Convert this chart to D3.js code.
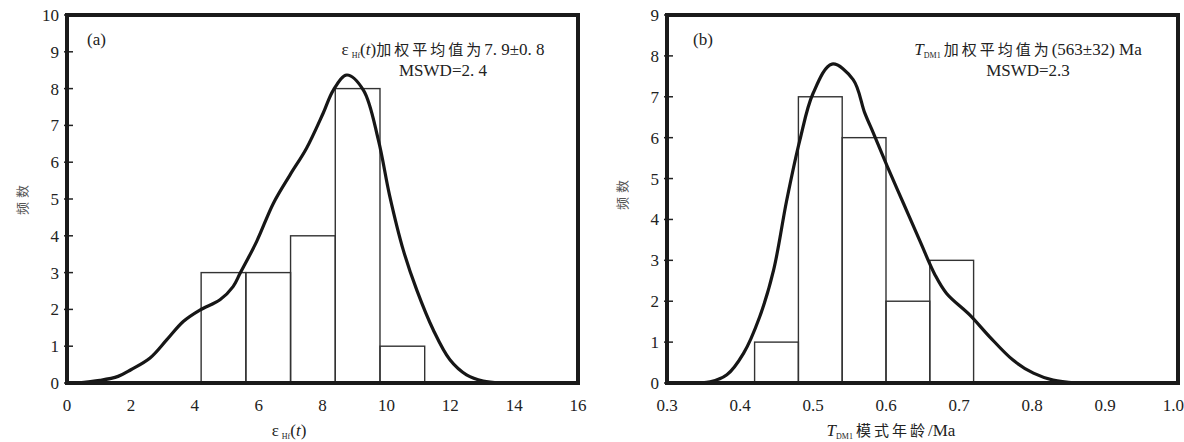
<!DOCTYPE html>
<html>
<head>
<meta charset="utf-8">
<script src="https://cdn.jsdelivr.net/npm/d3@7"></script>
<style>
body { margin: 0; background: #fff; }
</style>
</head>
<body>
<svg id="chart" width="1184" height="442"></svg>
<script>
// panel (a): eHf(t)
var hfBinStart = [4.2, 5.6, 7.0, 8.4, 9.8]
var hfCounts = [3, 3, 4, 8, 1]
var hfBinWidth = 1.4
var hfCurveX = [0.3, 1.03, 1.6, 2.0, 2.6, 3.12, 3.64, 4.16, 4.79, 5.2, 5.42, 5.94, 6.46, 6.98, 7.5, 8.02, 8.34, 8.76, 9.28, 9.75, 10.1, 10.53, 10.95, 11.47, 11.99, 12.51, 13.03, 13.56]
var hfCurveY = [0.0, 0.07, 0.18, 0.36, 0.68, 1.17, 1.67, 1.98, 2.26, 2.62, 2.98, 3.85, 4.88, 5.65, 6.38, 7.33, 7.96, 8.37, 7.96, 6.6, 5.1, 3.61, 2.53, 1.44, 0.63, 0.22, 0.05, 0.0]
var hfXTicks = [0, 2, 4, 6, 8, 10, 12, 14, 16]
var hfYTicks = [0, 1, 2, 3, 4, 5, 6, 7, 8, 9, 10]

// panel (b): TDM1
var tdmBinStart = [0.42, 0.48, 0.54, 0.60, 0.66]
var tdmCounts = [1, 7, 6, 2, 3]
var tdmBinWidth = 0.06
var tdmCurveX = [0.32, 0.359, 0.382, 0.405, 0.427, 0.446, 0.464, 0.482, 0.50, 0.526, 0.555, 0.571, 0.583, 0.601, 0.624, 0.647, 0.667, 0.683, 0.715, 0.742, 0.774, 0.802, 0.829, 0.86]
var tdmCurveY = [0.0, 0.03, 0.2, 0.73, 1.62, 2.76, 4.47, 5.94, 7.08, 7.8, 7.42, 6.6, 6.1, 5.33, 4.39, 3.45, 2.65, 2.19, 1.66, 1.13, 0.56, 0.24, 0.07, 0.0]
var tdmXTicks = [0.3, 0.4, 0.5, 0.6, 0.7, 0.8, 0.9, 1.0]
var tdmYTicks = [0, 1, 2, 3, 4, 5, 6, 7, 8, 9]

var SERIF = "'Liberation Serif', 'Times New Roman', serif"
var CJK = "'Noto Sans CJK SC', sans-serif"

var svg = d3.select('#chart').attr('font-family', SERIF).style('font-family', SERIF)

function drawPanel(opt) {
    var x = d3.scaleLinear().domain(opt.xDomain).range([opt.left, opt.right])
    var y = d3.scaleLinear().domain(opt.yDomain).range([383, 15])
    var g = svg.append('g')

    // bars
    g.selectAll('rect.bar').data(opt.starts).enter().append('rect')
        .attr('class', 'bar')
        .attr('x', function (d) { return x(d) })
        .attr('width', function (d) { return x(d + opt.width) - x(d) })
        .attr('y', function (d, i) { return y(opt.counts[i]) })
        .attr('height', function (d, i) { return y(0) - y(opt.counts[i]) })
        .attr('fill', 'none').attr('stroke', '#333').attr('stroke-width', 1.4)

    // density curve
    var pts = opt.cx.map(function (d, i) { return [d, opt.cy[i]] })
    var line = d3.line()
        .x(function (d) { return x(d[0]) })
        .y(function (d) { return y(d[1]) })
        .curve(d3.curveCatmullRom.alpha(0.5))
    g.append('path').attr('d', line(pts))
        .attr('fill', 'none').attr('stroke', '#161616').attr('stroke-width', 3.2)

    // y ticks
    g.selectAll('line.yt').data(opt.yTicks).enter().append('line')
        .attr('x1', opt.left - 3).attr('x2', opt.left + 6)
        .attr('y1', function (d) { return y(d) }).attr('y2', function (d) { return y(d) })
        .attr('stroke', '#222').attr('stroke-width', 1.5)
    g.selectAll('text.yl').data(opt.yTicks).enter().append('text')
        .attr('x', opt.left - 8).attr('y', function (d) { return y(d) })
        .attr('dy', '0.35em').attr('text-anchor', 'end').attr('font-size', 17).attr('fill', '#222')
        .text(function (d) { return d })
    var xl = opt.xTicks.length
    g.selectAll('text.xl').data(opt.xTicks).enter().append('text')
        .attr('x', function (d, i) { return (opt.lastEnd && i == xl - 1) ? 1184 : x(d) })
        .attr('y', 411)
        .attr('text-anchor', function (d, i) { return (opt.lastEnd && i == xl - 1) ? 'end' : 'middle' })
        .attr('font-size', 17).attr('fill', '#222')
        .text(opt.xFormat)

    // frame
    g.append('rect').attr('x', opt.left).attr('y', 15)
        .attr('width', opt.right - opt.left).attr('height', 383 - 15)
        .attr('fill', 'none').attr('stroke', '#1a1a1a').attr('stroke-width', 4)

    // panel label
    g.append('text').attr('x', opt.left + (opt.labelDx || 20)).attr('y', 45)
        .attr('font-size', 17).attr('fill', '#222').text(opt.label)

    // y title
    g.append('text').style('font-family', CJK)
        .attr('transform', 'translate(' + opt.yTitleX + ',' + opt.yTitleY + ') rotate(-90)')
        .attr('text-anchor', 'middle').attr('dy', '0.35em')
        .attr('font-size', 13).attr('letter-spacing', 4).attr('fill', '#555')
        .text('频数')
    return g
}

var ga = drawPanel({
    xDomain: [0, 16], yDomain: [0, 10], left: 67, right: 578,
    starts: hfBinStart, counts: hfCounts, width: hfBinWidth,
    cx: hfCurveX, cy: hfCurveY, xTicks: hfXTicks, yTicks: hfYTicks,
    xFormat: function (d) { return d }, label: '(a)', labelDx: 20,
    yTitleX: 22, yTitleY: 198
})

var gb = drawPanel({
    xDomain: [0.3, 1.0], yDomain: [0, 9], left: 667, right: 1178,
    starts: tdmBinStart, counts: tdmCounts, width: tdmBinWidth,
    cx: tdmCurveX, cy: tdmCurveY, xTicks: tdmXTicks, yTicks: tdmYTicks,
    xFormat: d3.format('.1f'), label: '(b)', labelDx: 26, lastEnd: true,
    yTitleX: 622, yTitleY: 193
})

function epsHf(t) {
    t.append('tspan').text('ε')
    t.append('tspan').attr('font-size', 8).attr('dy', 3).attr('dx', 3).text('Hf')
    t.append('tspan').attr('dy', -3).text('(')
    t.append('tspan').attr('font-style', 'italic').text('t')
    t.append('tspan').text(')')
}
function tdm(t) {
    t.append('tspan').attr('font-style', 'italic').text('T')
    t.append('tspan').attr('font-size', 8).attr('dy', 3).text('DM1')
}

// annotations (a)
var ta = ga.append('text').attr('x', 443).attr('y', 55).attr('text-anchor', 'middle').attr('font-size', 17).attr('fill', '#222')
epsHf(ta)
ta.append('tspan').style('font-family', CJK).attr('font-size', 15).attr('letter-spacing', 3).text('加权平均值为')
ta.append('tspan').text('7. 9±0. 8')
ga.append('text').attr('x', 443).attr('y', 76).attr('text-anchor', 'middle').attr('font-size', 17).attr('fill', '#222').text('MSWD=2. 4')

ga.append('text').attr('x', 289).attr('y', 436).attr('text-anchor', 'middle').attr('font-size', 17).attr('fill', '#222')
    .call(epsHf)

// annotations (b)
var tb = gb.append('text').attr('x', 1028).attr('y', 55).attr('text-anchor', 'middle').attr('font-size', 17).attr('fill', '#222')
tdm(tb)
tb.append('tspan').style('font-family', CJK).attr('dy', -3).attr('dx', 3).attr('font-size', 15).attr('letter-spacing', 3).text('加权平均值为')
tb.append('tspan').text('(563±32) Ma')
gb.append('text').attr('x', 1028).attr('y', 76).attr('text-anchor', 'middle').attr('font-size', 17).attr('fill', '#222').text('MSWD=2.3')

var tx = gb.append('text').attr('x', 891).attr('y', 436).attr('text-anchor', 'middle').attr('font-size', 17).attr('fill', '#222')
tdm(tx)
tx.append('tspan').style('font-family', CJK).attr('dy', -3).attr('dx', 3).attr('font-size', 15).attr('letter-spacing', 3).text('模式年龄')
tx.append('tspan').text('/Ma')
</script>
</body>
</html>
